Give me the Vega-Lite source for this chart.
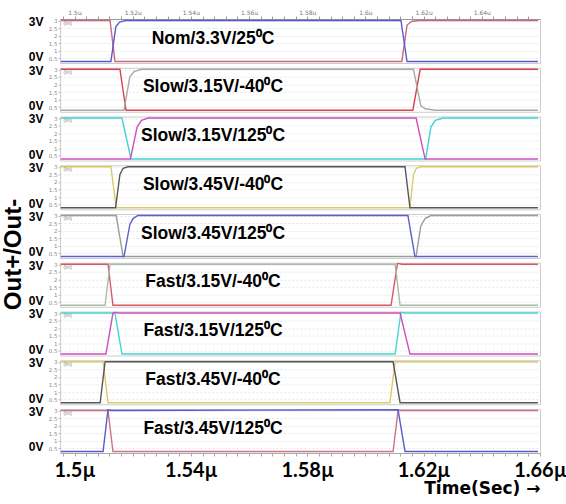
{
"$schema":"https://vega.github.io/schema/vega-lite/v6.json",
"padding":{"left":0,"top":8,"right":0,"bottom":0},
"spacing":4.75,
"bounds":"flush",
"config":{"view":{"stroke":"#cccccc"},"font":"Liberation Sans"},
"datasets":{
"labels":[
{"panel":1,"label":"Nom/3.3V/25⁰C"},
{"panel":2,"label":"Slow/3.15V/-40⁰C"},
{"panel":3,"label":"Slow/3.15V/125⁰C"},
{"panel":4,"label":"Slow/3.45V/-40⁰C"},
{"panel":5,"label":"Slow/3.45V/125⁰C"},
{"panel":6,"label":"Fast/3.15V/-40⁰C"},
{"panel":7,"label":"Fast/3.15V/125⁰C"},
{"panel":8,"label":"Fast/3.45V/-40⁰C"},
{"panel":9,"label":"Fast/3.45V/125⁰C"}
],
"waves":[
{"panel":1,"trace":"1-","t":1.4953,"v":3},{"panel":1,"trace":"1-","t":1.5122,"v":3},{"panel":1,"trace":"1-","t":1.5139,"v":0.3},{"panel":1,"trace":"1-","t":1.6125,"v":0.3},{"panel":1,"trace":"1-","t":1.6143,"v":2.7},{"panel":1,"trace":"1-","t":1.6160,"v":2.95},{"panel":1,"trace":"1-","t":1.6185,"v":3},{"panel":1,"trace":"1-","t":1.6593,"v":3},
{"panel":1,"trace":"1+","t":1.4953,"v":0.3},{"panel":1,"trace":"1+","t":1.5125,"v":0.3},{"panel":1,"trace":"1+","t":1.5142,"v":2.6},{"panel":1,"trace":"1+","t":1.5155,"v":2.9},{"panel":1,"trace":"1+","t":1.5175,"v":3},{"panel":1,"trace":"1+","t":1.6122,"v":3},{"panel":1,"trace":"1+","t":1.6143,"v":0.3},{"panel":1,"trace":"1+","t":1.6593,"v":0.3},
{"panel":2,"trace":"2-","t":1.4953,"v":3},{"panel":2,"trace":"2-","t":1.5156,"v":3},{"panel":2,"trace":"2-","t":1.5177,"v":0.3},{"panel":2,"trace":"2-","t":1.6163,"v":0.3},{"panel":2,"trace":"2-","t":1.6188,"v":3},{"panel":2,"trace":"2-","t":1.6593,"v":3},
{"panel":2,"trace":"2+","t":1.4953,"v":0.3},{"panel":2,"trace":"2+","t":1.5170,"v":0.3},{"panel":2,"trace":"2+","t":1.5190,"v":2.5},{"panel":2,"trace":"2+","t":1.5205,"v":2.85},{"panel":2,"trace":"2+","t":1.5230,"v":3},{"panel":2,"trace":"2+","t":1.6165,"v":3},{"panel":2,"trace":"2+","t":1.6190,"v":0.6},{"panel":2,"trace":"2+","t":1.6205,"v":0.4},{"panel":2,"trace":"2+","t":1.6240,"v":0.3},{"panel":2,"trace":"2+","t":1.6593,"v":0.3},
{"panel":3,"trace":"3-","t":1.4953,"v":3},{"panel":3,"trace":"3-","t":1.5163,"v":3},{"panel":3,"trace":"3-","t":1.5194,"v":0.3},{"panel":3,"trace":"3-","t":1.6207,"v":0.3},{"panel":3,"trace":"3-","t":1.6225,"v":2.4},{"panel":3,"trace":"3-","t":1.6240,"v":2.85},{"panel":3,"trace":"3-","t":1.6267,"v":3},{"panel":3,"trace":"3-","t":1.6593,"v":3},
{"panel":3,"trace":"3+","t":1.4953,"v":0.3},{"panel":3,"trace":"3+","t":1.5192,"v":0.3},{"panel":3,"trace":"3+","t":1.5215,"v":2.4},{"panel":3,"trace":"3+","t":1.5230,"v":2.85},{"panel":3,"trace":"3+","t":1.5253,"v":3},{"panel":3,"trace":"3+","t":1.6174,"v":3},{"panel":3,"trace":"3+","t":1.6205,"v":0.3},{"panel":3,"trace":"3+","t":1.6593,"v":0.3},
{"panel":4,"trace":"4-","t":1.4953,"v":3},{"panel":4,"trace":"4-","t":1.5125,"v":3},{"panel":4,"trace":"4-","t":1.5143,"v":0.3},{"panel":4,"trace":"4-","t":1.6153,"v":0.3},{"panel":4,"trace":"4-","t":1.6165,"v":2.5},{"panel":4,"trace":"4-","t":1.6175,"v":2.9},{"panel":4,"trace":"4-","t":1.6190,"v":3},{"panel":4,"trace":"4-","t":1.6593,"v":3},
{"panel":4,"trace":"4+","t":1.4953,"v":0.3},{"panel":4,"trace":"4+","t":1.5141,"v":0.3},{"panel":4,"trace":"4+","t":1.5156,"v":2.5},{"panel":4,"trace":"4+","t":1.5167,"v":2.9},{"panel":4,"trace":"4+","t":1.5184,"v":3},{"panel":4,"trace":"4+","t":1.6136,"v":3},{"panel":4,"trace":"4+","t":1.6153,"v":0.3},{"panel":4,"trace":"4+","t":1.6593,"v":0.3},
{"panel":5,"trace":"5-","t":1.4953,"v":3},{"panel":5,"trace":"5-","t":1.5143,"v":3},{"panel":5,"trace":"5-","t":1.5167,"v":0.3},{"panel":5,"trace":"5-","t":1.6174,"v":0.3},{"panel":5,"trace":"5-","t":1.6190,"v":2.3},{"panel":5,"trace":"5-","t":1.6205,"v":2.8},{"panel":5,"trace":"5-","t":1.6225,"v":3},{"panel":5,"trace":"5-","t":1.6593,"v":3},
{"panel":5,"trace":"5+","t":1.4953,"v":0.3},{"panel":5,"trace":"5+","t":1.5170,"v":0.3},{"panel":5,"trace":"5+","t":1.5190,"v":2.4},{"panel":5,"trace":"5+","t":1.5201,"v":2.8},{"panel":5,"trace":"5+","t":1.5218,"v":3},{"panel":5,"trace":"5+","t":1.6146,"v":3},{"panel":5,"trace":"5+","t":1.6170,"v":0.3},{"panel":5,"trace":"5+","t":1.6593,"v":0.3},
{"panel":6,"trace":"6-","t":1.4953,"v":3},{"panel":6,"trace":"6-","t":1.5115,"v":3},{"panel":6,"trace":"6-","t":1.5132,"v":0.3},{"panel":6,"trace":"6-","t":1.6088,"v":0.3},{"panel":6,"trace":"6-","t":1.6110,"v":3.06},{"panel":6,"trace":"6-","t":1.6125,"v":3},{"panel":6,"trace":"6-","t":1.6593,"v":3},
{"panel":6,"trace":"6+","t":1.4953,"v":0.3},{"panel":6,"trace":"6+","t":1.5105,"v":0.3},{"panel":6,"trace":"6+","t":1.5122,"v":3},{"panel":6,"trace":"6+","t":1.6102,"v":3},{"panel":6,"trace":"6+","t":1.6119,"v":0.3},{"panel":6,"trace":"6+","t":1.6593,"v":0.3},
{"panel":7,"trace":"7-","t":1.4953,"v":3},{"panel":7,"trace":"7-","t":1.5139,"v":3},{"panel":7,"trace":"7-","t":1.5163,"v":0.3},{"panel":7,"trace":"7-","t":1.6102,"v":0.3},{"panel":7,"trace":"7-","t":1.6122,"v":3.05},{"panel":7,"trace":"7-","t":1.6136,"v":3},{"panel":7,"trace":"7-","t":1.6593,"v":3},
{"panel":7,"trace":"7+","t":1.4953,"v":0.3},{"panel":7,"trace":"7+","t":1.5108,"v":0.3},{"panel":7,"trace":"7+","t":1.5132,"v":3},{"panel":7,"trace":"7+","t":1.5140,"v":3.05},{"panel":7,"trace":"7+","t":1.5150,"v":3},{"panel":7,"trace":"7+","t":1.6119,"v":3},{"panel":7,"trace":"7+","t":1.6153,"v":0.3},{"panel":7,"trace":"7+","t":1.6593,"v":0.3},
{"panel":8,"trace":"8-","t":1.4953,"v":3},{"panel":8,"trace":"8-","t":1.5098,"v":3},{"panel":8,"trace":"8-","t":1.5115,"v":0.3},{"panel":8,"trace":"8-","t":1.6084,"v":0.3},{"panel":8,"trace":"8-","t":1.6102,"v":3},{"panel":8,"trace":"8-","t":1.6593,"v":3},
{"panel":8,"trace":"8+","t":1.4953,"v":0.3},{"panel":8,"trace":"8+","t":1.5088,"v":0.3},{"panel":8,"trace":"8+","t":1.5105,"v":3},{"panel":8,"trace":"8+","t":1.6095,"v":3},{"panel":8,"trace":"8+","t":1.6119,"v":0.3},{"panel":8,"trace":"8+","t":1.6593,"v":0.3},
{"panel":9,"trace":"9-","t":1.4953,"v":3},{"panel":9,"trace":"9-","t":1.5115,"v":3},{"panel":9,"trace":"9-","t":1.5132,"v":0.3},{"panel":9,"trace":"9-","t":1.6095,"v":0.3},{"panel":9,"trace":"9-","t":1.6112,"v":3},{"panel":9,"trace":"9-","t":1.6593,"v":3},
{"panel":9,"trace":"9+","t":1.4953,"v":0.3},{"panel":9,"trace":"9+","t":1.5098,"v":0.3},{"panel":9,"trace":"9+","t":1.5115,"v":3.05},{"panel":9,"trace":"9+","t":1.5125,"v":3},{"panel":9,"trace":"9+","t":1.6112,"v":3.05},{"panel":9,"trace":"9+","t":1.6136,"v":0.3},{"panel":9,"trace":"9+","t":1.6593,"v":0.3}
]
},
"vconcat":[
{"width":480,"height":44,"resolve":{"axis":{"y":"independent"}},"layer":[
{"data":{"name":"waves"},"transform":[{"filter":"datum.panel==1"}],"mark":{"type":"line","strokeWidth":1.4,"clip":true},
"encoding":{
"x":{"field":"t","type":"quantitative","scale":{"domain":[1.495,1.66],"nice":false,"zero":false},
"axis":{"orient":"top","values":[1.496,1.5,1.504,1.508,1.512,1.516,1.52,1.524,1.528,1.532,1.536,1.54,1.544,1.548,1.552,1.556,1.56,1.564,1.568,1.572,1.576,1.58,1.584,1.588,1.592,1.596,1.6,1.604,1.608,1.612,1.616,1.62,1.624,1.628,1.632,1.636,1.64,1.644,1.648,1.652,1.656],"labelExpr":"abs(datum.value*50-round(datum.value*50))<0.01 && datum.value<1.65 ? format(datum.value,'.3~r')+'u' : ''","title":null,"labelFontSize":6,"labelColor":"#777777","labelFont":"DejaVu Sans","tickSize":3,"tickColor":"#999999","domainColor":"#999999","labelPadding":1,"labelOverlap":false,"labelFlush":false,"grid":false}},
"y":{"field":"v","type":"quantitative","scale":{"domain":[0.2,3.1],"nice":false,"zero":false},"axis":{"orient":"left","values":[0.5,1,1.5,2,2.5,3],"format":"~g","title":null,"labelFontSize":5.5,"labelColor":"#8a8a8a","labelFont":"DejaVu Sans","tickSize":2,"tickColor":"#bbbbbb","domain":false,"labelPadding":1,"labelOverlap":false,"labelFlush":false,"grid":true,"gridColor":"#e6e6e6","gridDash":[2,2]}},
"color":{"field":"trace","type":"nominal","scale":{"domain":["1-","1+","2-","2+","3-","3+","4-","4+","5-","5+","6-","6+","7-","7+","8-","8+","9-","9+"],"range":["#c8687a","#5a5ad0","#d8424f","#a9a9a9","#3fd3d3","#cf4fc2","#d9cb6a","#575757","#9c9c9c","#5f5fd0","#d85666","#a9bba9","#44d6d2","#cf4fc2","#d9cb6a","#575757","#cc7484","#5a5ad0"]},"legend":null}}},
{"data":{"name":"labels"},"transform":[{"filter":"datum.panel==1"}],"mark":{"type":"text","fontWeight":"bold","fontSize":17.5,"color":"#000000"},
"encoding":{"x":{"datum":1.5476,"type":"quantitative","axis":{"orient":"top","values":[1.496,1.5,1.504,1.508,1.512,1.516,1.52,1.524,1.528,1.532,1.536,1.54,1.544,1.548,1.552,1.556,1.56,1.564,1.568,1.572,1.576,1.58,1.584,1.588,1.592,1.596,1.6,1.604,1.608,1.612,1.616,1.62,1.624,1.628,1.632,1.636,1.64,1.644,1.648,1.652,1.656],"labelExpr":"abs(datum.value*50-round(datum.value*50))<0.01 && datum.value<1.65 ? format(datum.value,'.3~r')+'u' : ''","title":null,"labelFontSize":6,"labelColor":"#777777","labelFont":"DejaVu Sans","tickSize":3,"tickColor":"#999999","domainColor":"#999999","labelPadding":1,"labelOverlap":false,"labelFlush":false,"grid":false}},"y":{"datum":1.8,"type":"quantitative","axis":{"orient":"left","values":[2.95,0.6],"labelExpr":"datum.value > 2 ? '3V' : '0V'","title":null,"offset":15,"ticks":false,"domain":false,"grid":false,"labelFontWeight":"bold","labelFontSize":12,"labelColor":"#000000","labelPadding":2,"labelOverlap":false,"labelFlush":false}},"text":{"field":"label"}}},
{"data":{"name":"labels"},"transform":[{"filter":"datum.panel==1"}],"mark":{"type":"text","fontSize":5,"color":"#888888","align":"left"},
"encoding":{"x":{"datum":1.4962,"type":"quantitative","axis":{"orient":"top","values":[1.496,1.5,1.504,1.508,1.512,1.516,1.52,1.524,1.528,1.532,1.536,1.54,1.544,1.548,1.552,1.556,1.56,1.564,1.568,1.572,1.576,1.58,1.584,1.588,1.592,1.596,1.6,1.604,1.608,1.612,1.616,1.62,1.624,1.628,1.632,1.636,1.64,1.644,1.648,1.652,1.656],"labelExpr":"abs(datum.value*50-round(datum.value*50))<0.01 && datum.value<1.65 ? format(datum.value,'.3~r')+'u' : ''","title":null,"labelFontSize":6,"labelColor":"#777777","labelFont":"DejaVu Sans","tickSize":3,"tickColor":"#999999","domainColor":"#999999","labelPadding":1,"labelOverlap":false,"labelFlush":false,"grid":false}},"y":{"datum":2.85,"type":"quantitative","axis":null},"text":{"value":"(lin)"}}}
]},
{"width":480,"height":44,"resolve":{"axis":{"y":"independent"}},"layer":[
{"data":{"name":"waves"},"transform":[{"filter":"datum.panel==2"}],"mark":{"type":"line","strokeWidth":1.4,"clip":true},
"encoding":{
"x":{"field":"t","type":"quantitative","scale":{"domain":[1.495,1.66],"nice":false,"zero":false},"axis":null},
"y":{"field":"v","type":"quantitative","scale":{"domain":[0.2,3.1],"nice":false,"zero":false},"axis":{"orient":"left","values":[0.5,1,1.5,2,2.5,3],"format":"~g","title":null,"labelFontSize":5.5,"labelColor":"#8a8a8a","labelFont":"DejaVu Sans","tickSize":2,"tickColor":"#bbbbbb","domain":false,"labelPadding":1,"labelOverlap":false,"labelFlush":false,"grid":true,"gridColor":"#e6e6e6","gridDash":[2,2]}},
"color":{"field":"trace","type":"nominal","scale":{"domain":["1-","1+","2-","2+","3-","3+","4-","4+","5-","5+","6-","6+","7-","7+","8-","8+","9-","9+"],"range":["#c8687a","#5a5ad0","#d8424f","#a9a9a9","#3fd3d3","#cf4fc2","#d9cb6a","#575757","#9c9c9c","#5f5fd0","#d85666","#a9bba9","#44d6d2","#cf4fc2","#d9cb6a","#575757","#cc7484","#5a5ad0"]},"legend":null}}},
{"data":{"name":"labels"},"transform":[{"filter":"datum.panel==2"}],"mark":{"type":"text","fontWeight":"bold","fontSize":17.5,"color":"#000000"},
"encoding":{"x":{"datum":1.5476,"type":"quantitative","axis":null},"y":{"datum":1.8,"type":"quantitative","axis":{"orient":"left","values":[2.95,0.6],"labelExpr":"datum.value > 2 ? '3V' : '0V'","title":null,"offset":15,"ticks":false,"domain":false,"grid":false,"labelFontWeight":"bold","labelFontSize":12,"labelColor":"#000000","labelPadding":2,"labelOverlap":false,"labelFlush":false}},"text":{"field":"label"}}},
{"data":{"name":"labels"},"transform":[{"filter":"datum.panel==2"}],"mark":{"type":"text","fontSize":5,"color":"#888888","align":"left"},
"encoding":{"x":{"datum":1.4962,"type":"quantitative","axis":null},"y":{"datum":2.85,"type":"quantitative","axis":null},"text":{"value":"(lin)"}}}
]},
{"width":480,"height":44,"resolve":{"axis":{"y":"independent"}},"layer":[
{"data":{"name":"waves"},"transform":[{"filter":"datum.panel==3"}],"mark":{"type":"line","strokeWidth":1.4,"clip":true},
"encoding":{
"x":{"field":"t","type":"quantitative","scale":{"domain":[1.495,1.66],"nice":false,"zero":false},"axis":null},
"y":{"field":"v","type":"quantitative","scale":{"domain":[0.2,3.1],"nice":false,"zero":false},"axis":{"orient":"left","values":[0.5,1,1.5,2,2.5,3],"format":"~g","title":null,"labelFontSize":5.5,"labelColor":"#8a8a8a","labelFont":"DejaVu Sans","tickSize":2,"tickColor":"#bbbbbb","domain":false,"labelPadding":1,"labelOverlap":false,"labelFlush":false,"grid":true,"gridColor":"#e6e6e6","gridDash":[2,2]}},
"color":{"field":"trace","type":"nominal","scale":{"domain":["1-","1+","2-","2+","3-","3+","4-","4+","5-","5+","6-","6+","7-","7+","8-","8+","9-","9+"],"range":["#c8687a","#5a5ad0","#d8424f","#a9a9a9","#3fd3d3","#cf4fc2","#d9cb6a","#575757","#9c9c9c","#5f5fd0","#d85666","#a9bba9","#44d6d2","#cf4fc2","#d9cb6a","#575757","#cc7484","#5a5ad0"]},"legend":null}}},
{"data":{"name":"labels"},"transform":[{"filter":"datum.panel==3"}],"mark":{"type":"text","fontWeight":"bold","fontSize":17.5,"color":"#000000"},
"encoding":{"x":{"datum":1.5476,"type":"quantitative","axis":null},"y":{"datum":1.8,"type":"quantitative","axis":{"orient":"left","values":[2.95,0.6],"labelExpr":"datum.value > 2 ? '3V' : '0V'","title":null,"offset":15,"ticks":false,"domain":false,"grid":false,"labelFontWeight":"bold","labelFontSize":12,"labelColor":"#000000","labelPadding":2,"labelOverlap":false,"labelFlush":false}},"text":{"field":"label"}}},
{"data":{"name":"labels"},"transform":[{"filter":"datum.panel==3"}],"mark":{"type":"text","fontSize":5,"color":"#888888","align":"left"},
"encoding":{"x":{"datum":1.4962,"type":"quantitative","axis":null},"y":{"datum":2.85,"type":"quantitative","axis":null},"text":{"value":"(lin)"}}}
]},
{"width":480,"height":44,"resolve":{"axis":{"y":"independent"}},"layer":[
{"data":{"name":"waves"},"transform":[{"filter":"datum.panel==4"}],"mark":{"type":"line","strokeWidth":1.4,"clip":true},
"encoding":{
"x":{"field":"t","type":"quantitative","scale":{"domain":[1.495,1.66],"nice":false,"zero":false},"axis":null},
"y":{"field":"v","type":"quantitative","scale":{"domain":[0.2,3.1],"nice":false,"zero":false},"axis":{"orient":"left","values":[0.5,1,1.5,2,2.5,3],"format":"~g","title":null,"labelFontSize":5.5,"labelColor":"#8a8a8a","labelFont":"DejaVu Sans","tickSize":2,"tickColor":"#bbbbbb","domain":false,"labelPadding":1,"labelOverlap":false,"labelFlush":false,"grid":true,"gridColor":"#e6e6e6","gridDash":[2,2]}},
"color":{"field":"trace","type":"nominal","scale":{"domain":["1-","1+","2-","2+","3-","3+","4-","4+","5-","5+","6-","6+","7-","7+","8-","8+","9-","9+"],"range":["#c8687a","#5a5ad0","#d8424f","#a9a9a9","#3fd3d3","#cf4fc2","#d9cb6a","#575757","#9c9c9c","#5f5fd0","#d85666","#a9bba9","#44d6d2","#cf4fc2","#d9cb6a","#575757","#cc7484","#5a5ad0"]},"legend":null}}},
{"data":{"name":"labels"},"transform":[{"filter":"datum.panel==4"}],"mark":{"type":"text","fontWeight":"bold","fontSize":17.5,"color":"#000000"},
"encoding":{"x":{"datum":1.5476,"type":"quantitative","axis":null},"y":{"datum":1.8,"type":"quantitative","axis":{"orient":"left","values":[2.95,0.6],"labelExpr":"datum.value > 2 ? '3V' : '0V'","title":null,"offset":15,"ticks":false,"domain":false,"grid":false,"labelFontWeight":"bold","labelFontSize":12,"labelColor":"#000000","labelPadding":2,"labelOverlap":false,"labelFlush":false}},"text":{"field":"label"}}},
{"data":{"name":"labels"},"transform":[{"filter":"datum.panel==4"}],"mark":{"type":"text","fontSize":5,"color":"#888888","align":"left"},
"encoding":{"x":{"datum":1.4962,"type":"quantitative","axis":null},"y":{"datum":2.85,"type":"quantitative","axis":null},"text":{"value":"(lin)"}}}
]},
{"width":480,"height":44,"resolve":{"axis":{"y":"independent"}},"layer":[
{"data":{"name":"waves"},"transform":[{"filter":"datum.panel==5"}],"mark":{"type":"line","strokeWidth":1.4,"clip":true},
"encoding":{
"x":{"field":"t","type":"quantitative","scale":{"domain":[1.495,1.66],"nice":false,"zero":false},"axis":null},
"y":{"field":"v","type":"quantitative","scale":{"domain":[0.2,3.1],"nice":false,"zero":false},"axis":{"orient":"left","values":[0.5,1,1.5,2,2.5,3],"format":"~g","title":null,"labelFontSize":5.5,"labelColor":"#8a8a8a","labelFont":"DejaVu Sans","tickSize":2,"tickColor":"#bbbbbb","domain":false,"labelPadding":1,"labelOverlap":false,"labelFlush":false,"grid":true,"gridColor":"#e6e6e6","gridDash":[2,2]}},
"color":{"field":"trace","type":"nominal","scale":{"domain":["1-","1+","2-","2+","3-","3+","4-","4+","5-","5+","6-","6+","7-","7+","8-","8+","9-","9+"],"range":["#c8687a","#5a5ad0","#d8424f","#a9a9a9","#3fd3d3","#cf4fc2","#d9cb6a","#575757","#9c9c9c","#5f5fd0","#d85666","#a9bba9","#44d6d2","#cf4fc2","#d9cb6a","#575757","#cc7484","#5a5ad0"]},"legend":null}}},
{"data":{"name":"labels"},"transform":[{"filter":"datum.panel==5"}],"mark":{"type":"text","fontWeight":"bold","fontSize":17.5,"color":"#000000"},
"encoding":{"x":{"datum":1.5476,"type":"quantitative","axis":null},"y":{"datum":1.8,"type":"quantitative","axis":{"orient":"left","values":[2.95,0.6],"labelExpr":"datum.value > 2 ? '3V' : '0V'","title":"Out+/Out-","titleFontSize":24,"titleFontWeight":"bold","titleColor":"#000000","titlePadding":3,"titleY":40,"offset":15,"ticks":false,"domain":false,"grid":false,"labelFontWeight":"bold","labelFontSize":12,"labelColor":"#000000","labelPadding":2,"labelOverlap":false,"labelFlush":false}},"text":{"field":"label"}}},
{"data":{"name":"labels"},"transform":[{"filter":"datum.panel==5"}],"mark":{"type":"text","fontSize":5,"color":"#888888","align":"left"},
"encoding":{"x":{"datum":1.4962,"type":"quantitative","axis":null},"y":{"datum":2.85,"type":"quantitative","axis":null},"text":{"value":"(lin)"}}}
]},
{"width":480,"height":44,"resolve":{"axis":{"y":"independent"}},"layer":[
{"data":{"name":"waves"},"transform":[{"filter":"datum.panel==6"}],"mark":{"type":"line","strokeWidth":1.4,"clip":true},
"encoding":{
"x":{"field":"t","type":"quantitative","scale":{"domain":[1.495,1.66],"nice":false,"zero":false},"axis":null},
"y":{"field":"v","type":"quantitative","scale":{"domain":[0.2,3.1],"nice":false,"zero":false},"axis":{"orient":"left","values":[0.5,1,1.5,2,2.5,3],"format":"~g","title":null,"labelFontSize":5.5,"labelColor":"#8a8a8a","labelFont":"DejaVu Sans","tickSize":2,"tickColor":"#bbbbbb","domain":false,"labelPadding":1,"labelOverlap":false,"labelFlush":false,"grid":true,"gridColor":"#e6e6e6","gridDash":[2,2]}},
"color":{"field":"trace","type":"nominal","scale":{"domain":["1-","1+","2-","2+","3-","3+","4-","4+","5-","5+","6-","6+","7-","7+","8-","8+","9-","9+"],"range":["#c8687a","#5a5ad0","#d8424f","#a9a9a9","#3fd3d3","#cf4fc2","#d9cb6a","#575757","#9c9c9c","#5f5fd0","#d85666","#a9bba9","#44d6d2","#cf4fc2","#d9cb6a","#575757","#cc7484","#5a5ad0"]},"legend":null}}},
{"data":{"name":"labels"},"transform":[{"filter":"datum.panel==6"}],"mark":{"type":"text","fontWeight":"bold","fontSize":17.5,"color":"#000000"},
"encoding":{"x":{"datum":1.5476,"type":"quantitative","axis":null},"y":{"datum":1.8,"type":"quantitative","axis":{"orient":"left","values":[2.95,0.6],"labelExpr":"datum.value > 2 ? '3V' : '0V'","title":null,"offset":15,"ticks":false,"domain":false,"grid":false,"labelFontWeight":"bold","labelFontSize":12,"labelColor":"#000000","labelPadding":2,"labelOverlap":false,"labelFlush":false}},"text":{"field":"label"}}},
{"data":{"name":"labels"},"transform":[{"filter":"datum.panel==6"}],"mark":{"type":"text","fontSize":5,"color":"#888888","align":"left"},
"encoding":{"x":{"datum":1.4962,"type":"quantitative","axis":null},"y":{"datum":2.85,"type":"quantitative","axis":null},"text":{"value":"(lin)"}}}
]},
{"width":480,"height":44,"resolve":{"axis":{"y":"independent"}},"layer":[
{"data":{"name":"waves"},"transform":[{"filter":"datum.panel==7"}],"mark":{"type":"line","strokeWidth":1.4,"clip":true},
"encoding":{
"x":{"field":"t","type":"quantitative","scale":{"domain":[1.495,1.66],"nice":false,"zero":false},"axis":null},
"y":{"field":"v","type":"quantitative","scale":{"domain":[0.2,3.1],"nice":false,"zero":false},"axis":{"orient":"left","values":[0.5,1,1.5,2,2.5,3],"format":"~g","title":null,"labelFontSize":5.5,"labelColor":"#8a8a8a","labelFont":"DejaVu Sans","tickSize":2,"tickColor":"#bbbbbb","domain":false,"labelPadding":1,"labelOverlap":false,"labelFlush":false,"grid":true,"gridColor":"#e6e6e6","gridDash":[2,2]}},
"color":{"field":"trace","type":"nominal","scale":{"domain":["1-","1+","2-","2+","3-","3+","4-","4+","5-","5+","6-","6+","7-","7+","8-","8+","9-","9+"],"range":["#c8687a","#5a5ad0","#d8424f","#a9a9a9","#3fd3d3","#cf4fc2","#d9cb6a","#575757","#9c9c9c","#5f5fd0","#d85666","#a9bba9","#44d6d2","#cf4fc2","#d9cb6a","#575757","#cc7484","#5a5ad0"]},"legend":null}}},
{"data":{"name":"labels"},"transform":[{"filter":"datum.panel==7"}],"mark":{"type":"text","fontWeight":"bold","fontSize":17.5,"color":"#000000"},
"encoding":{"x":{"datum":1.5476,"type":"quantitative","axis":null},"y":{"datum":1.8,"type":"quantitative","axis":{"orient":"left","values":[2.95,0.6],"labelExpr":"datum.value > 2 ? '3V' : '0V'","title":null,"offset":15,"ticks":false,"domain":false,"grid":false,"labelFontWeight":"bold","labelFontSize":12,"labelColor":"#000000","labelPadding":2,"labelOverlap":false,"labelFlush":false}},"text":{"field":"label"}}},
{"data":{"name":"labels"},"transform":[{"filter":"datum.panel==7"}],"mark":{"type":"text","fontSize":5,"color":"#888888","align":"left"},
"encoding":{"x":{"datum":1.4962,"type":"quantitative","axis":null},"y":{"datum":2.85,"type":"quantitative","axis":null},"text":{"value":"(lin)"}}}
]},
{"width":480,"height":44,"resolve":{"axis":{"y":"independent"}},"layer":[
{"data":{"name":"waves"},"transform":[{"filter":"datum.panel==8"}],"mark":{"type":"line","strokeWidth":1.4,"clip":true},
"encoding":{
"x":{"field":"t","type":"quantitative","scale":{"domain":[1.495,1.66],"nice":false,"zero":false},"axis":null},
"y":{"field":"v","type":"quantitative","scale":{"domain":[0.2,3.1],"nice":false,"zero":false},"axis":{"orient":"left","values":[0.5,1,1.5,2,2.5,3],"format":"~g","title":null,"labelFontSize":5.5,"labelColor":"#8a8a8a","labelFont":"DejaVu Sans","tickSize":2,"tickColor":"#bbbbbb","domain":false,"labelPadding":1,"labelOverlap":false,"labelFlush":false,"grid":true,"gridColor":"#e6e6e6","gridDash":[2,2]}},
"color":{"field":"trace","type":"nominal","scale":{"domain":["1-","1+","2-","2+","3-","3+","4-","4+","5-","5+","6-","6+","7-","7+","8-","8+","9-","9+"],"range":["#c8687a","#5a5ad0","#d8424f","#a9a9a9","#3fd3d3","#cf4fc2","#d9cb6a","#575757","#9c9c9c","#5f5fd0","#d85666","#a9bba9","#44d6d2","#cf4fc2","#d9cb6a","#575757","#cc7484","#5a5ad0"]},"legend":null}}},
{"data":{"name":"labels"},"transform":[{"filter":"datum.panel==8"}],"mark":{"type":"text","fontWeight":"bold","fontSize":17.5,"color":"#000000"},
"encoding":{"x":{"datum":1.5476,"type":"quantitative","axis":null},"y":{"datum":1.8,"type":"quantitative","axis":{"orient":"left","values":[2.95,0.6],"labelExpr":"datum.value > 2 ? '3V' : '0V'","title":null,"offset":15,"ticks":false,"domain":false,"grid":false,"labelFontWeight":"bold","labelFontSize":12,"labelColor":"#000000","labelPadding":2,"labelOverlap":false,"labelFlush":false}},"text":{"field":"label"}}},
{"data":{"name":"labels"},"transform":[{"filter":"datum.panel==8"}],"mark":{"type":"text","fontSize":5,"color":"#888888","align":"left"},
"encoding":{"x":{"datum":1.4962,"type":"quantitative","axis":null},"y":{"datum":2.85,"type":"quantitative","axis":null},"text":{"value":"(lin)"}}}
]},
{"width":480,"height":44,"resolve":{"axis":{"y":"independent"}},"layer":[
{"data":{"name":"waves"},"transform":[{"filter":"datum.panel==9"}],"mark":{"type":"line","strokeWidth":1.4,"clip":true},
"encoding":{
"x":{"field":"t","type":"quantitative","scale":{"domain":[1.495,1.66],"nice":false,"zero":false},
"axis":{"orient":"bottom","values":[1.496,1.5,1.504,1.508,1.512,1.516,1.52,1.524,1.528,1.532,1.536,1.54,1.544,1.548,1.552,1.556,1.56,1.564,1.568,1.572,1.576,1.58,1.584,1.588,1.592,1.596,1.6,1.604,1.608,1.612,1.616,1.62,1.624,1.628,1.632,1.636,1.64,1.644,1.648,1.652,1.656,1.66],"labelExpr":"abs((datum.value-1.5)*25-round((datum.value-1.5)*25))<0.01 ? format(datum.value,'.3~r')+'µ' : ''","title":"Time(Sec) →","titleAnchor":"end","titleFont":"DejaVu Sans","titleFontWeight":"bold","titleFontSize":17,"titleColor":"#000000","titlePadding":0,"labelFont":"Lato","labelFontWeight":"bold","labelFontSize":20,"labelColor":"#000000","labelPadding":4,"tickSize":3,"tickColor":"#aaaaaa","domainColor":"#aaaaaa","labelOverlap":false,"labelFlush":false,"grid":false}},
"y":{"field":"v","type":"quantitative","scale":{"domain":[0.2,3.1],"nice":false,"zero":false},"axis":{"orient":"left","values":[0.5,1,1.5,2,2.5,3],"format":"~g","title":null,"labelFontSize":5.5,"labelColor":"#8a8a8a","labelFont":"DejaVu Sans","tickSize":2,"tickColor":"#bbbbbb","domain":false,"labelPadding":1,"labelOverlap":false,"labelFlush":false,"grid":true,"gridColor":"#e6e6e6","gridDash":[2,2]}},
"color":{"field":"trace","type":"nominal","scale":{"domain":["1-","1+","2-","2+","3-","3+","4-","4+","5-","5+","6-","6+","7-","7+","8-","8+","9-","9+"],"range":["#c8687a","#5a5ad0","#d8424f","#a9a9a9","#3fd3d3","#cf4fc2","#d9cb6a","#575757","#9c9c9c","#5f5fd0","#d85666","#a9bba9","#44d6d2","#cf4fc2","#d9cb6a","#575757","#cc7484","#5a5ad0"]},"legend":null}}},
{"data":{"name":"labels"},"transform":[{"filter":"datum.panel==9"}],"mark":{"type":"text","fontWeight":"bold","fontSize":17.5,"color":"#000000"},
"encoding":{"x":{"datum":1.5476,"type":"quantitative","axis":{"orient":"bottom","values":[1.496,1.5,1.504,1.508,1.512,1.516,1.52,1.524,1.528,1.532,1.536,1.54,1.544,1.548,1.552,1.556,1.56,1.564,1.568,1.572,1.576,1.58,1.584,1.588,1.592,1.596,1.6,1.604,1.608,1.612,1.616,1.62,1.624,1.628,1.632,1.636,1.64,1.644,1.648,1.652,1.656,1.66],"labelExpr":"abs((datum.value-1.5)*25-round((datum.value-1.5)*25))<0.01 ? format(datum.value,'.3~r')+'µ' : ''","title":"Time(Sec) →","titleAnchor":"end","titleFont":"DejaVu Sans","titleFontWeight":"bold","titleFontSize":17,"titleColor":"#000000","titlePadding":0,"labelFont":"Lato","labelFontWeight":"bold","labelFontSize":20,"labelColor":"#000000","labelPadding":4,"tickSize":3,"tickColor":"#aaaaaa","domainColor":"#aaaaaa","labelOverlap":false,"labelFlush":false,"grid":false}},"y":{"datum":1.8,"type":"quantitative","axis":{"orient":"left","values":[2.95,0.6],"labelExpr":"datum.value > 2 ? '3V' : '0V'","title":null,"offset":15,"ticks":false,"domain":false,"grid":false,"labelFontWeight":"bold","labelFontSize":12,"labelColor":"#000000","labelPadding":2,"labelOverlap":false,"labelFlush":false}},"text":{"field":"label"}}},
{"data":{"name":"labels"},"transform":[{"filter":"datum.panel==9"}],"mark":{"type":"text","fontSize":5,"color":"#888888","align":"left"},
"encoding":{"x":{"datum":1.4962,"type":"quantitative","axis":{"orient":"bottom","values":[1.496,1.5,1.504,1.508,1.512,1.516,1.52,1.524,1.528,1.532,1.536,1.54,1.544,1.548,1.552,1.556,1.56,1.564,1.568,1.572,1.576,1.58,1.584,1.588,1.592,1.596,1.6,1.604,1.608,1.612,1.616,1.62,1.624,1.628,1.632,1.636,1.64,1.644,1.648,1.652,1.656,1.66],"labelExpr":"abs((datum.value-1.5)*25-round((datum.value-1.5)*25))<0.01 ? format(datum.value,'.3~r')+'µ' : ''","title":"Time(Sec) →","titleAnchor":"end","titleFont":"DejaVu Sans","titleFontWeight":"bold","titleFontSize":17,"titleColor":"#000000","titlePadding":0,"labelFont":"Lato","labelFontWeight":"bold","labelFontSize":20,"labelColor":"#000000","labelPadding":4,"tickSize":3,"tickColor":"#aaaaaa","domainColor":"#aaaaaa","labelOverlap":false,"labelFlush":false,"grid":false}},"y":{"datum":2.85,"type":"quantitative","axis":null},"text":{"value":"(lin)"}}}
]}
]
}
